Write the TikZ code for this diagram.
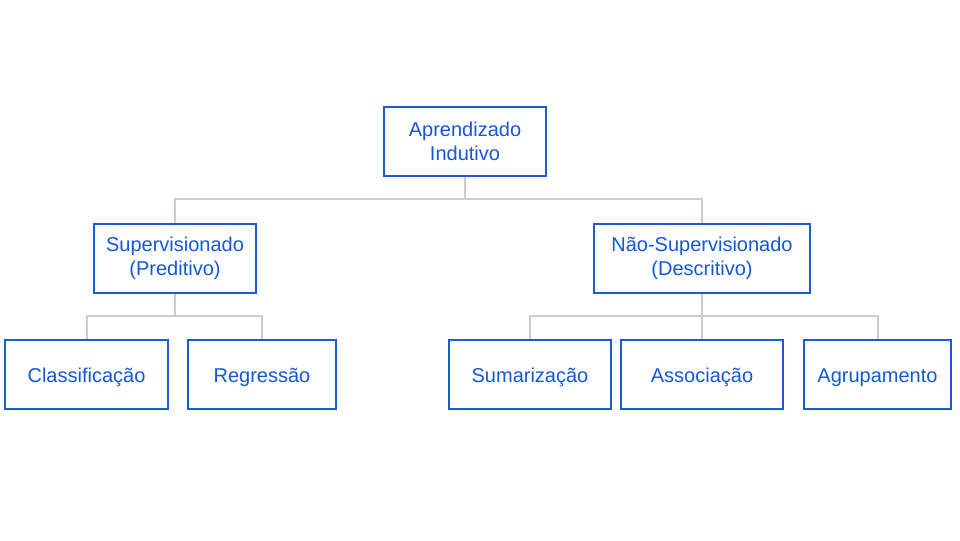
\documentclass[tikz,border=0pt]{standalone}
\usepackage{fontspec}
\setmainfont{Liberation Sans}
\definecolor{boxblue}{HTML}{1A5BD6}
\definecolor{txtblue}{HTML}{1558D6}
\definecolor{linegray}{HTML}{CCCCCC}
\begin{document}
\begin{tikzpicture}[x=0.75pt,y=-0.75pt,
  box/.style={draw=boxblue,line width=1.5pt,fill=white,text=txtblue,align=center,
    font=\fontsize{15}{18}\selectfont,inner sep=0pt,minimum height=69*0.75pt},
  leaf/.style={box,text height=12pt,text depth=0.3pt},
  conn/.style={draw=linegray,line width=1.5pt}]
\useasboundingbox (0,0) rectangle (960,540);
\node[box,minimum width=162*0.75pt] (top) at (465,141.5) {Aprendizado\\Indutivo};
\node[box,minimum width=162*0.75pt] (sup) at (175,258.5) {Supervisionado\\(Preditivo)};
\node[box,minimum width=216*0.75pt] (nao) at (702,258.5) {Não-Supervisionado\\(Descritivo)};
\node[leaf,minimum width=163*0.75pt] (cla) at (86.5,374.5) {Classificação};
\node[leaf,minimum width=148*0.75pt] (reg) at (262,374.5) {Regressão};
\node[leaf,minimum width=162*0.75pt] (sum) at (530,374.5) {Sumarização};
\node[leaf,minimum width=162*0.75pt] (ass) at (702,374.5) {Associação};
\node[leaf,minimum width=147*0.75pt] (agr) at (877.5,374.5) {Agrupamento};
\coordinate (j1) at (465,199);
\coordinate (j2) at (175,316);
\coordinate (j3) at (702,316);
\draw[conn] (top.south) -- (j1);
\draw[conn] (sup.north) |- (j1) -| (nao.north);
\draw[conn] (sup.south) -- (j2);
\draw[conn] (cla.north) |- (j2) -| (reg.north);
\draw[conn] (nao.south) -- (j3);
\draw[conn] (sum.north) |- (j3) -| (agr.north);
\draw[conn] (ass.north) -- (j3);
\end{tikzpicture}
\end{document}
